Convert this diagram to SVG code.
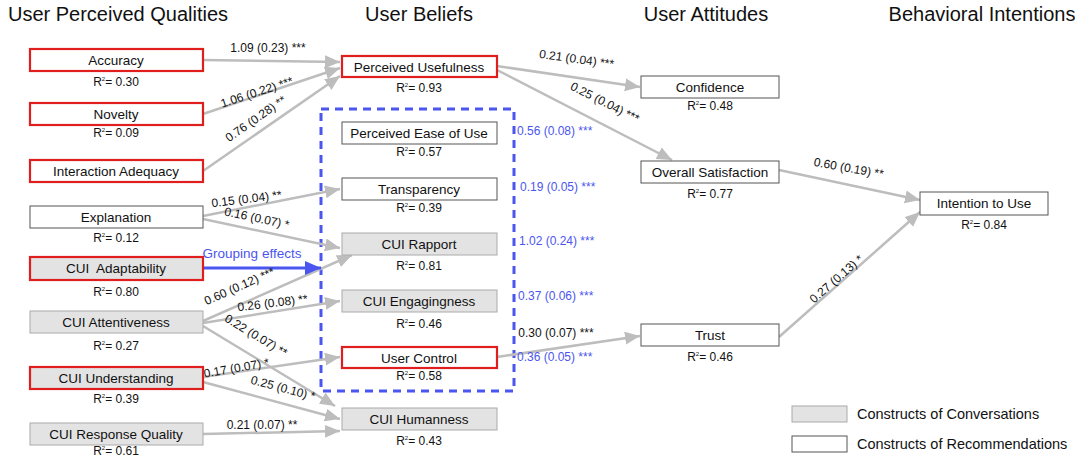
<svg xmlns="http://www.w3.org/2000/svg" width="1075" height="457" viewBox="0 0 1075 457">
<defs>
<marker id="ah" markerUnits="userSpaceOnUse" markerWidth="18" markerHeight="14" refX="15" refY="6.5" orient="auto"><path d="M0,0 L15,6.5 L0,13 Z" fill="#bdbdbd"/></marker>
<marker id="ahb" markerUnits="userSpaceOnUse" markerWidth="18" markerHeight="16" refX="16" refY="7" orient="auto"><path d="M0,0 L16,7 L0,14 Z" fill="#4b55f0"/></marker>
</defs>
<style>
text{font-family:"Liberation Sans",Arial,sans-serif;fill:#111}
.h{font-size:20px;text-anchor:middle}
.n{font-size:13.5px;text-anchor:middle}
.r{font-size:12px;text-anchor:middle}
.sup{font-size:6px}
.e{font-size:12px;text-anchor:middle}
.bl{font-size:12px;fill:#4b55f0}
.w{fill:#fff;stroke:#555;stroke-width:1}
.g{fill:#e3e3e3;stroke:#aaa;stroke-width:1}
.red{stroke:#e01e1e;stroke-width:2.2}
.c{stroke:#bdbdbd;stroke-width:2.5;fill:none;marker-end:url(#ah)}
.lg{font-size:14.5px}
</style>
<rect width="1075" height="457" fill="#fff"/>
<g id="headers">
<text class="h" x="118" y="21">User Perceived Qualities</text>
<text class="h" x="419" y="21">User Beliefs</text>
<text class="h" x="706" y="21">User Attitudes</text>
<text class="h" x="982" y="21">Behavioral Intentions</text>
</g>
<rect id="group-box" x="321" y="109" width="193" height="282" fill="none" stroke="#4b55f0" stroke-width="3" stroke-dasharray="8,6"/>
<g id="connectors">
<line class="c" x1="203" y1="60" x2="340" y2="62"/>
<line class="c" x1="203" y1="114" x2="340" y2="68"/>
<line class="c" x1="203" y1="171" x2="340" y2="76"/>
<line class="c" x1="203" y1="216" x2="340" y2="189"/>
<line class="c" x1="203" y1="219" x2="340" y2="248"/>
<line class="c" x1="203" y1="321" x2="352" y2="255"/>
<line class="c" x1="203" y1="323" x2="340" y2="301"/>
<line class="c" x1="203" y1="326" x2="335" y2="406"/>
<line class="c" x1="203" y1="377" x2="340" y2="357"/>
<line class="c" x1="203" y1="382" x2="340" y2="419"/>
<line class="c" x1="203" y1="434" x2="340" y2="431"/>
<line class="c" x1="497" y1="66" x2="640" y2="87"/>
<line class="c" x1="497" y1="70" x2="672" y2="160"/>
<line class="c" x1="497" y1="357" x2="640" y2="336"/>
<line class="c" x1="779" y1="170" x2="920" y2="200"/>
<line class="c" x1="779" y1="337" x2="920" y2="212"/>
<line x1="203" y1="268" x2="321" y2="268" stroke="#4b55f0" stroke-width="3" marker-end="url(#ahb)"/>
</g>
<g id="edge-labels">
<text class="e" x="268" y="52">1.09 (0.23) ***</text>
<text class="e" transform="translate(258,96) rotate(-18)">1.06 (0.22) ***</text>
<text class="e" transform="translate(258,122) rotate(-35)">0.76 (0.28) **</text>
<text class="e" transform="translate(247,203) rotate(-7)">0.15 (0.04) **</text>
<text class="e" transform="translate(256,222) rotate(12)">0.16 (0.07) *</text>
<text x="252" y="258" font-size="13.5" text-anchor="middle" style="fill:#4b55f0">Grouping effects</text>
<text class="e" transform="translate(241,290) rotate(-24)">0.60 (0.12) ***</text>
<text class="e" transform="translate(273,307) rotate(-7)">0.26 (0.08) **</text>
<text class="e" transform="translate(254,339) rotate(31)">0.22 (0.07) **</text>
<text class="e" transform="translate(237,372) rotate(-10)">0.17 (0.07) *</text>
<text class="e" transform="translate(282,392) rotate(15)">0.25 (0.10) *</text>
<text class="e" x="262" y="429">0.21 (0.07) **</text>
<text class="e" transform="translate(576,63) rotate(8)">0.21 (0.04) ***</text>
<text class="e" transform="translate(603,106) rotate(27)">0.25 (0.04) ***</text>
<text class="e" x="556" y="337">0.30 (0.07) ***</text>
<text class="e" transform="translate(848,172) rotate(10)">0.60 (0.19) **</text>
<text class="e" transform="translate(839,282) rotate(-41)">0.27 (0.13) *</text>
<text class="bl" x="517" y="135">0.56 (0.08) ***</text>
<text class="bl" x="520" y="191">0.19 (0.05) ***</text>
<text class="bl" x="519" y="245">1.02 (0.24) ***</text>
<text class="bl" x="518" y="300">0.37 (0.06) ***</text>
<text class="bl" x="517" y="361">0.36 (0.05) ***</text>
</g>
<g id="n-accuracy"><rect class="w red" x="30" y="49" width="173" height="22"/><text class="n" x="116" y="65">Accuracy</text><text class="r" x="116" y="86">R<tspan class="sup" dy="-5">2</tspan><tspan dy="5">= 0.30</tspan></text></g>
<g id="n-novelty"><rect class="w red" x="30" y="103" width="173" height="22"/><text class="n" x="116" y="119">Novelty</text><text class="r" x="116" y="137">R<tspan class="sup" dy="-5">2</tspan><tspan dy="5">= 0.09</tspan></text></g>
<g id="n-interaction"><rect class="w red" x="30" y="160" width="173" height="22"/><text class="n" x="116" y="176">Interaction Adequacy</text></g>
<g id="n-explanation"><rect class="w" x="30" y="206" width="173" height="22"/><text class="n" x="116" y="222">Explanation</text><text class="r" x="116" y="242">R<tspan class="sup" dy="-5">2</tspan><tspan dy="5">= 0.12</tspan></text></g>
<g id="n-adaptability"><rect class="g red" x="30" y="257" width="173" height="23"/><text class="n" x="116" y="273">CUI&#160; Adaptability</text><text class="r" x="116" y="296">R<tspan class="sup" dy="-5">2</tspan><tspan dy="5">= 0.80</tspan></text></g>
<g id="n-attentiveness"><rect class="g" x="30" y="311" width="173" height="22"/><text class="n" x="116" y="327">CUI Attentiveness</text><text class="r" x="116" y="350">R<tspan class="sup" dy="-5">2</tspan><tspan dy="5">= 0.27</tspan></text></g>
<g id="n-understanding"><rect class="g red" x="30" y="367" width="173" height="22"/><text class="n" x="116" y="383">CUI Understanding</text><text class="r" x="116" y="403">R<tspan class="sup" dy="-5">2</tspan><tspan dy="5">= 0.39</tspan></text></g>
<g id="n-response"><rect class="g" x="30" y="423" width="173" height="22"/><text class="n" x="116" y="439">CUI Response Quality</text><text class="r" x="116" y="455">R<tspan class="sup" dy="-5">2</tspan><tspan dy="5">= 0.61</tspan></text></g>
<g id="n-usefulness"><rect class="w red" x="342" y="56" width="155" height="21"/><text class="n" x="419" y="72">Perceived Usefulness</text><text class="r" x="419" y="92">R<tspan class="sup" dy="-5">2</tspan><tspan dy="5">= 0.93</tspan></text></g>
<g id="n-ease"><rect class="w" x="342" y="122" width="155" height="22"/><text class="n" x="419" y="138">Perceived Ease of Use</text><text class="r" x="419" y="156">R<tspan class="sup" dy="-5">2</tspan><tspan dy="5">= 0.57</tspan></text></g>
<g id="n-transparency"><rect class="w" x="342" y="178" width="155" height="22"/><text class="n" x="419" y="194">Transparency</text><text class="r" x="419" y="212">R<tspan class="sup" dy="-5">2</tspan><tspan dy="5">= 0.39</tspan></text></g>
<g id="n-rapport"><rect class="g" x="342" y="233" width="155" height="22"/><text class="n" x="419" y="249">CUI Rapport</text><text class="r" x="419" y="270">R<tspan class="sup" dy="-5">2</tspan><tspan dy="5">= 0.81</tspan></text></g>
<g id="n-engagingness"><rect class="g" x="342" y="290" width="155" height="22"/><text class="n" x="419" y="306">CUI Engagingness</text><text class="r" x="419" y="328">R<tspan class="sup" dy="-5">2</tspan><tspan dy="5">= 0.46</tspan></text></g>
<g id="n-control"><rect class="w red" x="342" y="347" width="155" height="21"/><text class="n" x="419" y="363">User Control</text><text class="r" x="419" y="380">R<tspan class="sup" dy="-5">2</tspan><tspan dy="5">= 0.58</tspan></text></g>
<g id="n-humanness"><rect class="g" x="342" y="408" width="155" height="22"/><text class="n" x="419" y="424">CUI Humanness</text><text class="r" x="419" y="445">R<tspan class="sup" dy="-5">2</tspan><tspan dy="5">= 0.43</tspan></text></g>
<g id="n-confidence"><rect class="w" x="641" y="76" width="138" height="22"/><text class="n" x="710" y="92">Confidence</text><text class="r" x="710" y="110">R<tspan class="sup" dy="-5">2</tspan><tspan dy="5">= 0.48</tspan></text></g>
<g id="n-satisfaction"><rect class="w" x="641" y="161" width="138" height="22"/><text class="n" x="710" y="177">Overall Satisfaction</text><text class="r" x="710" y="198">R<tspan class="sup" dy="-5">2</tspan><tspan dy="5">= 0.77</tspan></text></g>
<g id="n-trust"><rect class="w" x="641" y="324" width="138" height="22"/><text class="n" x="710" y="340">Trust</text><text class="r" x="710" y="361">R<tspan class="sup" dy="-5">2</tspan><tspan dy="5">= 0.46</tspan></text></g>
<g id="n-intention"><rect class="w" x="920" y="192" width="128" height="23"/><text class="n" x="984" y="208">Intention to Use</text><text class="r" x="984" y="229">R<tspan class="sup" dy="-5">2</tspan><tspan dy="5">= 0.84</tspan></text></g>
<g id="legend">
<rect class="g" x="792" y="406" width="55" height="16"/>
<text class="lg" x="857" y="419">Constructs of Conversations</text>
<rect class="w" x="792" y="436" width="55" height="16"/>
<text class="lg" x="857" y="449">Constructs of Recommendations</text>
</g>
</svg>
